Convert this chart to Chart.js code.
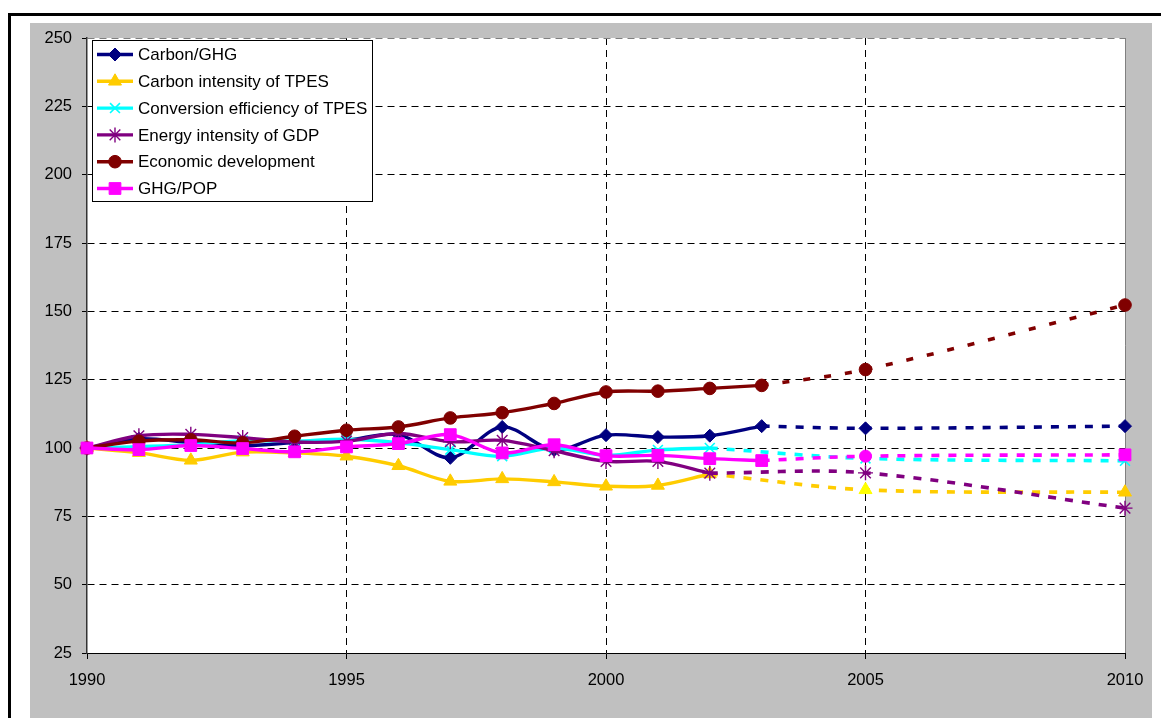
<!DOCTYPE html>
<html>
<head>
<meta charset="utf-8">
<title>Decomposition indices 1990-2010</title>
<script src="https://cdn.jsdelivr.net/npm/chart.js@4.4.1/dist/chart.umd.min.js"></script>
<style>
  html, body { margin: 0; padding: 0; background: #fff; overflow: hidden; width: 1161px; height: 718px; }
  #frame { position: absolute; left: 8px; top: 13px; width: 1200px; height: 800px;
           border-top: 3px solid #000; border-left: 3px solid #000; }
  #panel { position: absolute; left: 30px; top: 23px; width: 1122px; height: 695px; background: #c0c0c0; }
  #wrap { position: absolute; left: 0; top: 0; width: 1161px; height: 718px; }
</style>
</head>
<body>
<div id="frame"></div>
<div id="panel"></div>
<div id="wrap"><canvas id="chart" width="1161" height="718"></canvas></div>
<script>
// ---- data: index values (1990 = 100) ----
const histYears = [1990, 1991, 1992, 1993, 1994, 1995, 1996, 1997, 1998, 1999, 2000, 2001, 2002, 2003];
const projYearsFrom2003 = [2003, 2005, 2010];
const projYearsFrom2002 = [2002, 2005, 2010];

const seriesNames = [
  'Carbon/GHG',
  'Carbon intensity of TPES',
  'Conversion efficiency of TPES',
  'Energy intensity of GDP',
  'Economic development',
  'GHG/POP'
];

const carbonGhg      = [100, 103.4, 102.0, 100.8, 102.0, 102.8, 104.9, 96.4, 107.7, 99.3, 104.7, 104.0, 104.5, 108.0];
const carbonGhgProj  = [108.0, 107.2, 108.0];

const carbonIntensity     = [100, 98.3, 95.5, 98.5, 98.2, 97.0, 93.5, 87.8, 88.7, 87.6, 86.0, 86.3, 90.5];
const carbonIntensityProj = [90.5, 84.7, 83.8];

const conversionEff     = [100, 100.5, 101.2, 102.7, 102.5, 103.2, 101.9, 99.4, 97.0, 100.0, 97.3, 99.3, 100.0];
const conversionEffProj = [100.0, 96.2, 95.3];

const energyIntensity     = [100, 104.5, 105.0, 103.8, 102.2, 102.5, 105.3, 102.3, 102.8, 99.0, 95.1, 95.1, 90.8];
const energyIntensityProj = [90.8, 90.9, 78.0];

const economicDev     = [100, 102.5, 103.0, 101.9, 104.3, 106.5, 107.7, 111.0, 112.9, 116.3, 120.5, 120.8, 121.8, 122.9];
const economicDevProj = [122.9, 128.7, 152.3];

const ghgPop     = [100, 99.4, 100.9, 99.8, 98.6, 100.4, 101.6, 104.9, 98.2, 101.2, 97.2, 97.3, 96.1, 95.4];
const ghgPopProj = [95.4, 97.0, 97.5];

// ---- axis ticks ----
const yMin = 25, yMax = 250, yStep = 25;
const xMin = 1990, xMax = 2010, xStep = 5;

// ---- styling ----
const FONT = "'Liberation Sans', Arial, sans-serif";
const solidDash = [];
const projDash = [8, 9];
const projDashLong = [7, 14];

function pairs(xs, ys) {
  return ys.map((v, i) => ({ x: xs[i], y: v }));
}

function buildSeries(cfg) {
  const hist = {
    label: cfg.name,
    data: pairs(histYears, cfg.hist),
    borderColor: cfg.color,
    backgroundColor: cfg.color,
    borderWidth: 3.4,
    borderDash: solidDash,
    tension: 0.33,
    pointStyle: cfg.style,
    pointRadius: cfg.radius,
    pointBackgroundColor: cfg.color,
    pointBorderColor: cfg.color,
    pointBorderWidth: cfg.markerStroke,
    clip: false,
    order: cfg.order,
    inLegend: true
  };
  const proj = {
    label: cfg.name + ' (projection)',
    data: pairs(cfg.projYears, cfg.proj),
    borderColor: cfg.color,
    backgroundColor: cfg.color,
    borderWidth: 3.6,
    borderDash: cfg.dash,
    borderCapStyle: 'butt',
    tension: 0.33,
    pointStyle: cfg.projStyles || cfg.style,
    pointRadius: cfg.projRadii || cfg.proj.map((_, i) => (i === 0 ? 0 : cfg.radius)),
    pointBackgroundColor: cfg.projFill || cfg.color,
    pointBorderColor: cfg.projFill || cfg.color,
    pointBorderWidth: cfg.markerStroke,
    clip: false,
    order: cfg.order,
    inLegend: false
  };
  return [hist, proj];
}

const seriesCfg = [
  { name: seriesNames[0], color: '#000080', style: 'rectRot', radius: 6.5, markerStroke: 1,
    hist: carbonGhg, proj: carbonGhgProj, projYears: projYearsFrom2003, dash: projDash, order: 5 },
  { name: seriesNames[1], color: '#FFCC00', style: 'triangle', radius: 7.5, markerStroke: 1,
    hist: carbonIntensity, proj: carbonIntensityProj, projYears: projYearsFrom2002, dash: projDash, order: 4,
    projFill: ['#FFCC00', '#FFFF00', '#FFCC00'] },
  { name: seriesNames[2], color: '#00FFFF', style: 'crossRot', radius: 7, markerStroke: 1.6,
    hist: conversionEff, proj: conversionEffProj, projYears: projYearsFrom2002, dash: projDash, order: 3 },
  { name: seriesNames[3], color: '#800080', style: 'star', radius: 7.5, markerStroke: 1.4,
    hist: energyIntensity, proj: energyIntensityProj, projYears: projYearsFrom2002, dash: projDash, order: 2 },
  { name: seriesNames[4], color: '#800000', style: 'circle', radius: 6.3, markerStroke: 1,
    hist: economicDev, proj: economicDevProj, projYears: projYearsFrom2003, dash: projDashLong, order: 1 },
  { name: seriesNames[5], color: '#FF00FF', style: 'rect', radius: 8.3, markerStroke: 1,
    hist: ghgPop, proj: ghgPopProj, projYears: projYearsFrom2003, dash: projDash, order: 0,
    projStyles: ['rect', 'circle', 'rect'], projRadii: [0, 6, 8.3] }
];

const datasets = seriesCfg.flatMap(buildSeries);

// white plot area and the grey frame line on its right side
const plotFrame = {
  id: 'plotFrame',
  beforeDraw(chart) {
    const { ctx, chartArea: a } = chart;
    ctx.save();
    ctx.fillStyle = '#ffffff';
    ctx.fillRect(a.left, a.top, a.right - a.left, a.bottom - a.top);
    ctx.restore();
  },
  beforeDatasetsDraw(chart) {
    const { ctx, chartArea: a } = chart;
    ctx.save();
    ctx.strokeStyle = '#808080';
    ctx.lineWidth = 1;
    ctx.beginPath();
    ctx.moveTo(Math.round(a.right) + 0.5, a.top);
    ctx.lineTo(Math.round(a.right) + 0.5, a.bottom);
    ctx.stroke();
    ctx.restore();
  }
};

// boxed legend inside the plot, top-left
const legendLayout = { x: 92.5, y: 40.5, w: 280, h: 161, firstRow: 54.5, rowStep: 26.8,
                       lineX0: 97, lineX1: 133, textX: 138, fontSize: 17 };

const insideLegend = {
  id: 'insideLegend',
  afterDraw(chart) {
    const { ctx } = chart;
    const L = legendLayout;
    ctx.save();
    ctx.fillStyle = '#ffffff';
    ctx.fillRect(L.x, L.y, L.w, L.h);
    ctx.strokeStyle = '#000000';
    ctx.lineWidth = 1;
    ctx.strokeRect(L.x, L.y, L.w, L.h);
    const entries = chart.data.datasets.filter(d => d.inLegend);
    entries.forEach((d, i) => {
      const y = L.firstRow + i * L.rowStep;
      ctx.setLineDash([]);
      ctx.strokeStyle = d.borderColor;
      ctx.lineWidth = 3.4;
      ctx.beginPath();
      ctx.moveTo(L.lineX0, y);
      ctx.lineTo(L.lineX1, y);
      ctx.stroke();
      ctx.fillStyle = d.pointBackgroundColor;
      ctx.strokeStyle = d.pointBorderColor;
      ctx.lineWidth = d.pointBorderWidth;
      Chart.helpers.drawPoint(ctx, {
        pointStyle: d.pointStyle, radius: d.pointRadius, rotation: 0, borderWidth: d.pointBorderWidth
      }, (L.lineX0 + L.lineX1) / 2, y);
      ctx.fillStyle = '#000000';
      ctx.font = L.fontSize + 'px ' + FONT;
      ctx.textBaseline = 'middle';
      ctx.textAlign = 'left';
      ctx.fillText(d.label, L.textX, y + 1);
    });
    ctx.restore();
  }
};

new Chart(document.getElementById('chart'), {
  type: 'line',
  data: { datasets },
  options: {
    responsive: false,
    devicePixelRatio: 1,
    animation: false,
    layout: { padding: { left: 0, right: 36, top: 38, bottom: 0 } },
    plugins: { legend: { display: false }, tooltip: { enabled: false } },
    scales: {
      x: {
        type: 'linear',
        min: xMin, max: xMax,
        afterFit(scale) { scale.height = 65; },
        ticks: {
          stepSize: xStep,
          color: '#000',
          font: { family: FONT, size: 16.5 },
          padding: 12,
          maxRotation: 0,
          callback: v => String(v)
        },
        grid: {
          color: c => (c.tick && (c.tick.value === xMin || c.tick.value === xMax)) ? 'rgba(0,0,0,0)' : '#000',
          lineWidth: 1,
          tickColor: '#000',
          tickLength: 6,
          tickWidth: 1
        },
        border: { display: true, color: '#000', width: 1, dash: [7, 5] }
      },
      y: {
        min: yMin, max: yMax,
        afterFit(scale) { scale.width = 87; },
        ticks: {
          stepSize: yStep,
          color: '#000',
          font: { family: FONT, size: 16.5 },
          padding: 10
        },
        grid: {
          color: c => {
            if (!c.tick) return '#000';
            if (c.tick.value === yMin) return 'rgba(0,0,0,0)';
            if (c.tick.value === yMax) return '#808080';
            return '#000';
          },
          lineWidth: 1,
          tickColor: '#000',
          tickLength: 5,
          tickWidth: 1
        },
        border: { display: true, color: '#333', width: 1.5, dash: [7, 5] }
      }
    }
  },
  plugins: [plotFrame, insideLegend]
});
</script>
</body>
</html>
